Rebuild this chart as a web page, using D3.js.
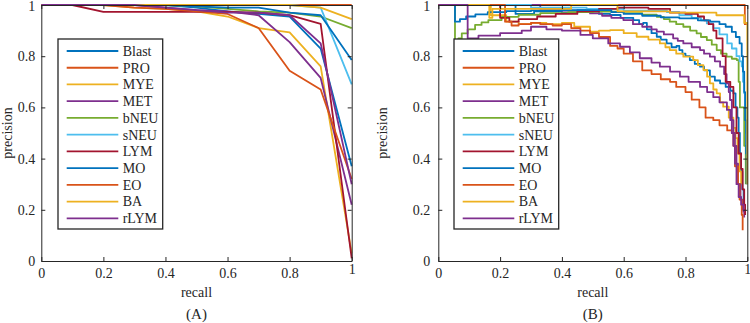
<!DOCTYPE html>
<html><head><meta charset="utf-8">
<script src="https://cdn.jsdelivr.net/npm/d3@7"></script>
<style>
html,body{margin:0;padding:0;background:#fff;}
svg{display:block;font-family:"Liberation Serif","Times New Roman",serif;}
</style></head>
<body>
<svg id="chart" width="750" height="323"></svg>
<script>
// ---------- DATA ----------
const classes = ["Blast","PRO","MYE","MET","bNEU","sNEU","LYM","MO","EO","BA","rLYM"];
const colors  = ["#0072BD","#D95319","#EDB120","#7E2F8E","#77AC30","#4DBEEE","#A2142F","#0072BD","#D95319","#EDB120","#7E2F8E"];
const tickValues = [0,0.2,0.4,0.6,0.8,1];
const tickLabels = ["0","0.2","0.4","0.6","0.8","1"];
const panelLabels = ["(A)","(B)"];

// Panel A: precision at recall 0,0.1,...,1
const recallA = [0,0.1,0.2,0.3,0.4,0.5,0.6,0.7,0.8,0.9,1];
const aBlast = [1,1,1,1,1,0.99,0.975,0.965,0.955,0.83,0.37];
const aPRO   = [1,1,1,1,1,1,1,1,1,1,1];
const aMYE   = [1,1,1,0.99,0.985,0.975,0.955,0.91,0.893,0.76,0.03];
const aMET   = [1,1,1,1,0.99,0.98,0.975,0.96,0.855,0.715,0.22];
const abNEU  = [1,1,1,1,1,0.995,0.985,0.975,0.97,0.955,0.91];
const asNEU  = [1,1,1,1,1,1,1,1,1,0.99,0.69];
const aLYM   = [1,1,0.973,0.973,0.973,0.973,0.973,0.97,0.96,0.926,0.01];
const aMO    = [1,1,1,1,1,0.995,0.99,0.99,0.97,0.96,0.785];
const aEO    = [1,1,1,0.99,0.985,0.975,0.965,0.91,0.743,0.67,0.32];
const aBA    = [1,1,1,1,1,1,1,1,1,0.99,0.945];
const arLYM  = [1,1,1,1,0.99,0.98,0.97,0.97,0.96,0.85,0.3];

// Panel B: [recall, precision] step points
const bBlast = [[0,1],[0.25,0.965],[0.31,0.975],[0.4,0.97],[0.45,0.98],[0.49,0.975],[0.52,0.965],[0.556,0.961],[0.59,0.95],[0.631,0.941],[0.65,0.925],[0.663,0.93],[0.675,0.905],[0.69,0.89],[0.707,0.876],[0.72,0.865],[0.739,0.85],[0.755,0.835],[0.771,0.84],[0.78,0.824],[0.79,0.81],[0.8,0.8],[0.814,0.785],[0.83,0.77],[0.847,0.759],[0.86,0.745],[0.879,0.72],[0.895,0.705],[0.912,0.694],[0.93,0.68],[0.945,0.665],[0.955,0.655],[0.962,0.6],[0.968,0.56],[0.972,0.5],[0.976,0.42],[0.98,0.35],[0.984,0.28],[0.988,0.22]];
const bPRO   = [[0,1],[0.992,0.925],[1,0.925]];
const bMYE   = [[0,1],[0.17,0.96],[0.22,0.935],[0.26,0.925],[0.3,0.93],[0.35,0.925],[0.4,0.93],[0.44,0.915],[0.491,0.896],[0.52,0.9],[0.556,0.902],[0.6,0.89],[0.642,0.876],[0.68,0.865],[0.717,0.85],[0.735,0.835],[0.749,0.824],[0.77,0.81],[0.793,0.798],[0.825,0.785],[0.84,0.765],[0.858,0.746],[0.87,0.72],[0.879,0.694],[0.89,0.67],[0.901,0.655],[0.912,0.62],[0.922,0.603],[0.94,0.56],[0.955,0.52],[0.962,0.48],[0.968,0.42],[0.975,0.35],[0.98,0.3]];
const bMET   = [[0,1],[0.33,0.985],[0.4,0.978],[0.45,0.972],[0.491,0.967],[0.53,0.958],[0.56,0.95],[0.599,0.941],[0.63,0.925],[0.66,0.915],[0.69,0.905],[0.707,0.896],[0.73,0.885],[0.76,0.87],[0.775,0.86],[0.793,0.85],[0.82,0.835],[0.847,0.824],[0.86,0.81],[0.879,0.798],[0.895,0.78],[0.912,0.759],[0.925,0.73],[0.933,0.694],[0.94,0.66],[0.944,0.629],[0.95,0.55],[0.955,0.5],[0.96,0.45],[0.965,0.38],[0.97,0.3],[0.978,0.24],[0.985,0.2],[0.99,0.17]];
const bbNEU  = [[0,1],[0.054,0.85],[0.065,0.87],[0.076,0.889],[0.095,0.905],[0.119,0.922],[0.14,0.932],[0.162,0.941],[0.205,0.954],[0.26,0.962],[0.33,0.968],[0.42,0.972],[0.5,0.974],[0.6,0.968],[0.66,0.962],[0.707,0.954],[0.73,0.945],[0.749,0.935],[0.77,0.925],[0.793,0.915],[0.815,0.9],[0.836,0.889],[0.85,0.875],[0.869,0.863],[0.885,0.845],[0.901,0.824],[0.915,0.81],[0.933,0.798],[0.95,0.79],[0.966,0.785],[0.972,0.7],[0.976,0.6],[0.985,0.6],[0.99,0.45],[0.995,0.3]];
const bsNEU  = [[0,1],[0.3,0.99],[0.48,0.985],[0.6,0.978],[0.74,0.972],[0.78,0.96],[0.82,0.95],[0.85,0.94],[0.869,0.928],[0.89,0.91],[0.91,0.885],[0.935,0.85],[0.95,0.83],[0.965,0.8],[0.975,0.78],[0.982,0.76],[0.986,0.7],[0.99,0.655],[0.993,0.6],[0.996,0.5],[0.998,0.42]];
const bLYM   = [[0,1],[0.2,0.95],[0.23,0.935],[0.26,0.945],[0.32,0.955],[0.38,0.965],[0.45,0.975],[0.52,0.985],[0.58,0.99],[0.68,0.985],[0.75,0.97],[0.8,0.965],[0.84,0.955],[0.86,0.94],[0.875,0.925],[0.89,0.9],[0.9,0.87],[0.92,0.8],[0.93,0.7],[0.945,0.68],[0.955,0.6],[0.965,0.5],[0.972,0.42],[0.98,0.36],[0.985,0.28],[0.99,0.22],[0.993,0.18]];
const bMO    = [[0,1],[0.054,0.935],[0.07,0.945],[0.09,0.955],[0.12,0.963],[0.16,0.972],[0.22,0.976],[0.3,0.979],[0.4,0.98],[0.5,0.98],[0.56,0.972],[0.6,0.965],[0.66,0.958],[0.72,0.952],[0.78,0.948],[0.84,0.94],[0.88,0.935],[0.91,0.925],[0.93,0.915],[0.95,0.895],[0.963,0.875],[0.975,0.85],[0.982,0.8],[0.986,0.74],[0.99,0.66],[0.993,0.55],[0.996,0.42],[0.998,0.3]];
const bEO    = [[0,1],[0.216,0.935],[0.237,0.92],[0.26,0.925],[0.3,0.93],[0.33,0.925],[0.37,0.92],[0.4,0.925],[0.43,0.91],[0.46,0.9],[0.491,0.89],[0.52,0.875],[0.556,0.84],[0.58,0.83],[0.6,0.81],[0.63,0.78],[0.66,0.745],[0.69,0.73],[0.72,0.71],[0.75,0.7],[0.77,0.68],[0.8,0.66],[0.82,0.63],[0.845,0.6],[0.865,0.56],[0.89,0.55],[0.91,0.53],[0.935,0.51],[0.95,0.5],[0.955,0.45],[0.96,0.37],[0.97,0.3],[0.975,0.24],[0.982,0.18],[0.985,0.12]];
const bBA    = [[0,1],[0.165,0.95],[0.175,0.985],[0.43,1],[0.58,0.975],[0.75,0.97],[0.9,0.96],[0.99,0.93],[1,0.3]];
const brLYM  = [[0,1],[0.095,0.87],[0.13,0.88],[0.2,0.89],[0.27,0.9],[0.3,0.915],[0.35,0.905],[0.4,0.9],[0.46,0.883],[0.5,0.87],[0.55,0.85],[0.588,0.837],[0.62,0.815],[0.652,0.792],[0.69,0.775],[0.717,0.759],[0.75,0.74],[0.782,0.72],[0.81,0.7],[0.847,0.68],[0.87,0.66],[0.89,0.64],[0.91,0.62],[0.934,0.59],[0.945,0.55],[0.95,0.5],[0.955,0.45],[0.96,0.38],[0.965,0.3],[0.972,0.25],[0.98,0.22],[0.988,0.19]];

const seriesA = [aBlast,aPRO,aMYE,aMET,abNEU,asNEU,aLYM,aMO,aEO,aBA,arLYM];
const seriesB = [bBlast,bPRO,bMYE,bMET,bbNEU,bsNEU,bLYM,bMO,bEO,bBA,brLYM];

// ---------- DRAW ----------
const svg = d3.select("#chart");
const axisColor = "#262626";
const y = d3.scaleLinear().domain([0,1]).range([261,5]);

const panels = [
  {x: d3.scaleLinear().domain([0,1]).range([41.3,351.7]), legendX: 58, step: false, data: seriesA, label: panelLabels[0], id:"a", ylabX: 12, tickPad: 6},
  {x: d3.scaleLinear().domain([0,1]).range([438.3,747.3]), legendX: 454, step: true, data: seriesB, label: panelLabels[1], id:"b", ylabX: 387, tickPad: 8}
];

panels.forEach(P => {
  const g = svg.append("g");
  const [x0,x1] = P.x.range();
  g.append("clipPath").attr("id","clip"+P.id).append("rect")
    .attr("x",x0-1).attr("y",4).attr("width",x1-x0+2).attr("height",258);

  const lines = g.append("g").attr("clip-path",`url(#clip${P.id})`);
  P.data.forEach((s,i) => {
    let pts, gen;
    if (!P.step) {
      pts = recallA.map((r,k)=>[r,s[k]]);
      gen = d3.line().x(d=>P.x(d[0])).y(d=>y(d[1]));
    } else {
      pts = s;
      gen = d3.line().x(d=>P.x(d[0])).y(d=>y(d[1])).curve(d3.curveStepAfter);
    }
    lines.append("path").attr("d",gen(pts)).attr("fill","none")
      .attr("stroke",colors[i]).attr("stroke-width",1.8).attr("stroke-linejoin","round");
  });

  const fmt = (d)=>tickLabels[tickValues.indexOf(d)];
  const style = sel => {
    sel.selectAll("path.domain").attr("stroke",axisColor).attr("stroke-width",1);
    sel.selectAll(".tick line").attr("stroke",axisColor).attr("stroke-width",1);
    sel.selectAll("text").attr("fill",axisColor).style("font-size","14px")
      .style("font-family","'Liberation Serif','Times New Roman',serif");
  };
  g.append("g").attr("transform","translate(0,261)")
    .call(d3.axisBottom(P.x).tickValues(tickValues).tickFormat(fmt).tickSizeInner(-4).tickSizeOuter(0).tickPadding(7)).call(style);
  g.append("g").attr("transform","translate(0,5)")
    .call(d3.axisTop(P.x).tickValues(tickValues).tickFormat("").tickSizeInner(-4).tickSizeOuter(0)).call(style);
  g.append("g").attr("transform",`translate(${x0},0)`)
    .call(d3.axisLeft(y).tickValues(tickValues).tickFormat(fmt).tickSizeInner(-4).tickSizeOuter(0).tickPadding(P.tickPad)).call(style);
  g.append("g").attr("transform",`translate(${x1},0)`)
    .call(d3.axisRight(y).tickValues(tickValues).tickFormat("").tickSizeInner(-4).tickSizeOuter(0)).call(style);
  // keep the top "1" label inside the canvas
  g.selectAll("text").filter(function(){ return this.textContent==="1" && +d3.select(this.parentNode).attr("transform").match(/,([\d.]+)\)/)?.[1] < 10; })
    .attr("dy","0.42em");

  // axis titles
  g.append("text").attr("x",(x0+x1)/2).attr("y",297).attr("text-anchor","middle")
    .attr("fill",axisColor).style("font-size","14px").text("recall");
  g.append("text").attr("transform",`translate(${P.ylabX},133) rotate(-90)`).attr("text-anchor","middle")
    .attr("fill",axisColor).style("font-size","14px").text("precision");
  g.append("text").attr("x",(x0+x1)/2).attr("y",319).attr("text-anchor","middle")
    .attr("fill",axisColor).style("font-size","15px").text(P.label);

  // legend
  const lg = g.append("g");
  lg.append("rect").attr("x",P.legendX).attr("y",39).attr("width",104.7).attr("height",190)
    .attr("fill","#fff").attr("stroke",axisColor).attr("stroke-width",1.3);
  classes.forEach((c,i)=>{
    const yy = 51 + i*16.73;
    lg.append("line").attr("x1",P.legendX+8.7).attr("x2",P.legendX+60.3).attr("y1",yy).attr("y2",yy)
      .attr("stroke",colors[i]).attr("stroke-width",1.8);
    lg.append("text").attr("x",P.legendX+64.7).attr("y",yy).attr("dy","0.35em")
      .attr("fill",axisColor).style("font-size","14px").text(c);
  });
});
</script>
</body></html>
